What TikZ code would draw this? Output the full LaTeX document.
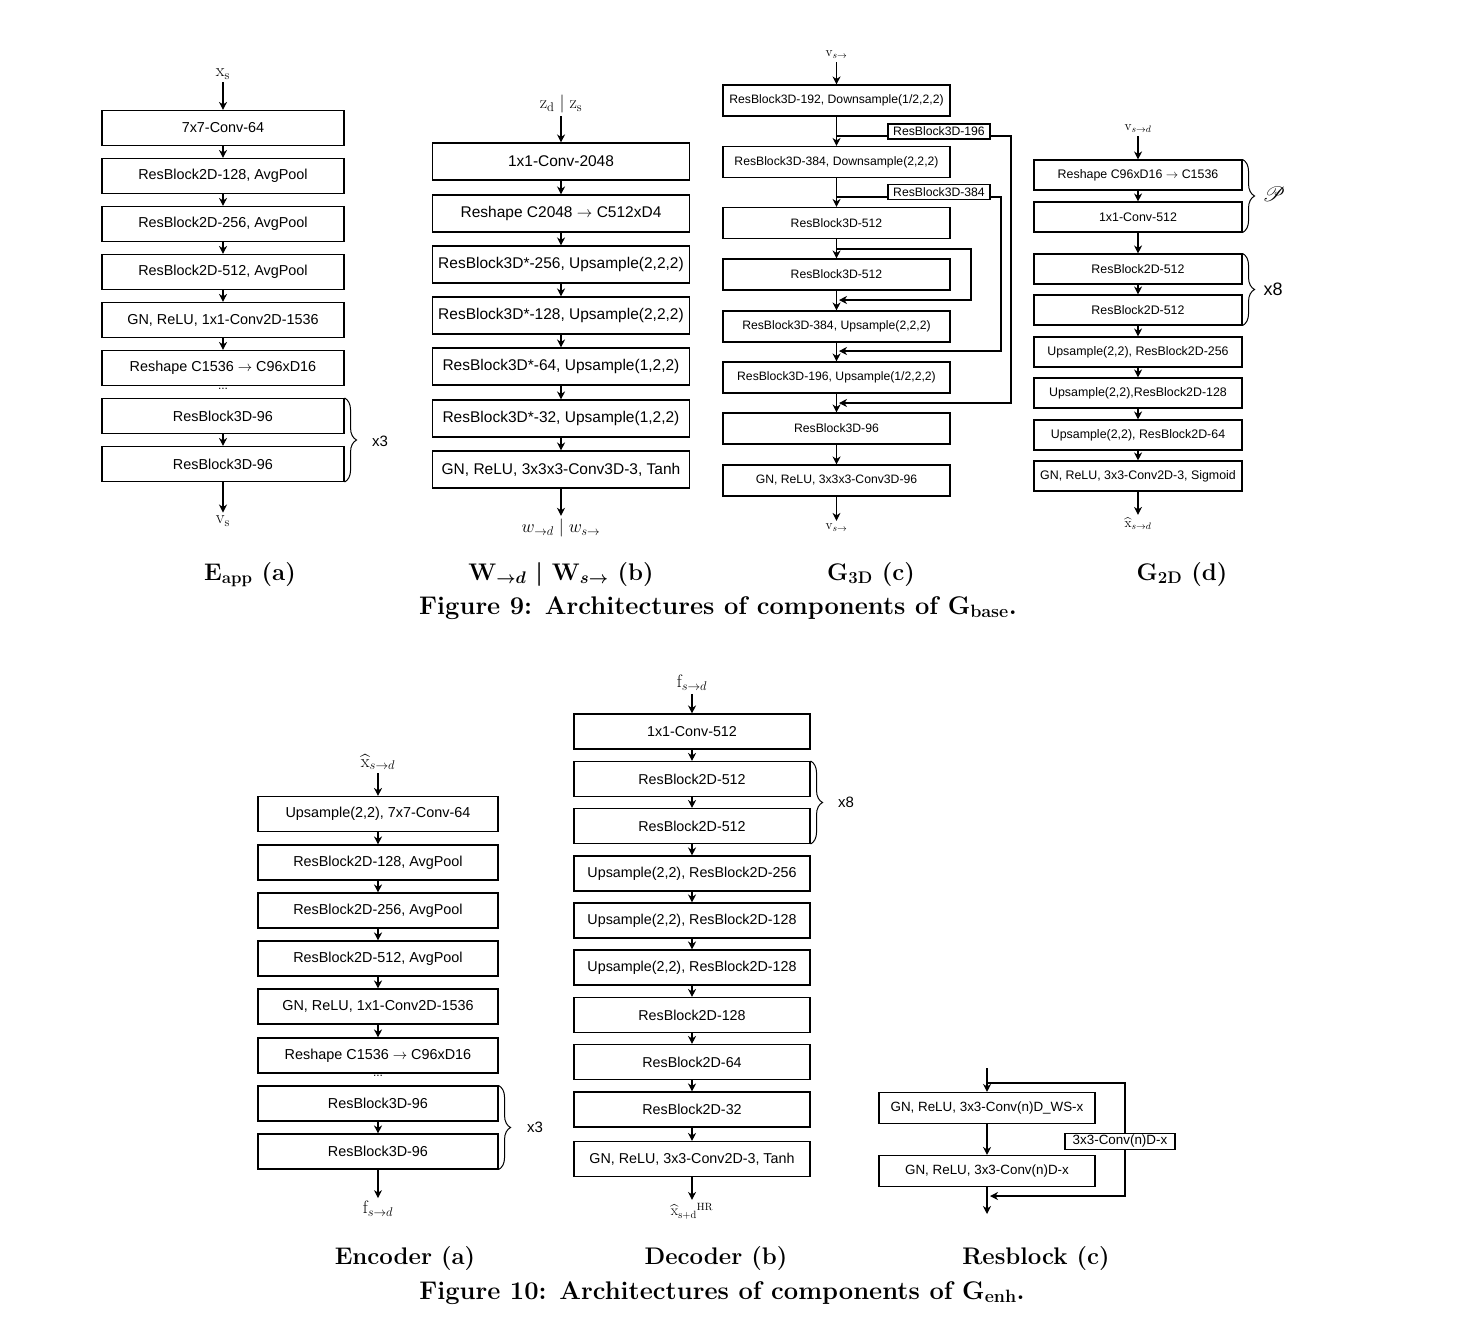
\RequirePackage{fix-cm}
\documentclass[tikz,border=0pt]{standalone}
\usepackage{amsmath,amssymb}
\usepackage{mathrsfs}
\usepackage{fontspec}
\newfontfamily\boxfont{Liberation Sans}
\usetikzlibrary{arrows.meta,positioning,calc,decorations.pathreplacing}
\newcommand{\xh}{\widehat{\mathrm{x}}}
\newcommand{\fsz}[1]{\fontsize{#1}{#1}\selectfont}

\begin{document}
\begin{tikzpicture}[x=1pt,y=-1pt,
  blk/.style={draw,line width=1.1pt,inner sep=0pt,align=center},
  arr/.style={-{Stealth[length=8pt,width=8pt,inset=2.5pt]},line width=1.1pt},
  brc/.style={decorate,decoration={brace,amplitude=12pt},line width=1pt},
  sig/.style={inner sep=3pt,font=\fsz{18}},
  sigs/.style={inner sep=3pt,font=\fsz{13.5}},
  rep/.style={inner sep=0pt,font=\boxfont\fsz{15}},
  dots/.style={inner sep=0pt,font=\boxfont\fsz{12}},
  captxt/.style={anchor=base,inner sep=0pt,font=\bfseries\boldmath\fsz{24}},
  figtxt/.style={captxt,font=\bfseries\boldmath\fsz{25.5}},
  ba/.style={blk,minimum width=242,minimum height=35,font=\boxfont\fsz{14.4}},
  bb/.style={blk,minimum width=257,minimum height=37,font=\boxfont\fsz{15.5}},
  bc/.style={blk,minimum width=227,minimum height=31,font=\boxfont\fsz{12.2}},
  bd/.style={blk,minimum width=208,minimum height=30,font=\boxfont\fsz{12.4}},
  be/.style={blk,minimum width=240,minimum height=35,font=\boxfont\fsz{14.4}},
  bf/.style={blk,minimum width=236,minimum height=35,font=\boxfont\fsz{14.3}},
  br/.style={blk,minimum width=216,minimum height=31,font=\boxfont\fsz{13.4}},
  skp/.style={blk,fill=white,minimum width=102,minimum height=15,font=\boxfont\fsz{12.2}},
]
\useasboundingbox (0,0) rectangle (1470,1334);
\fill[white] (0,0) rectangle (1470,1334);

% ============ FIG 9 (a): E_app ============
\node[sig] (ain) at (223,74) {$\mathrm{x}_{\mathrm{s}}$};
\node[ba] (a1) at (223,128) {7x7-Conv-64};
\node[ba] (a2) at (223,176) {ResBlock2D-128, AvgPool};
\node[ba] (a3) at (223,224) {ResBlock2D-256, AvgPool};
\node[ba] (a4) at (223,272) {ResBlock2D-512, AvgPool};
\node[ba] (a5) at (223,320) {GN, ReLU, 1x1-Conv2D-1536};
\node[ba] (a6) at (223,368) {Reshape C1536 $\rightarrow$ C96xD16};
\node[dots] (adots) at (223,389) {...};
\node[ba] (a7) at (223,416) {ResBlock3D-96};
\node[ba] (a8) at (223,464) {ResBlock3D-96};
\node[sig] (aout) at (223,521) {$\mathrm{v}_{\mathrm{s}}$};
\draw[arr] (ain) -- (a1);
\foreach \i/\j in {1/2,2/3,3/4,4/5,5/6,7/8} \draw[arr] (a\i) -- (a\j);
\draw[arr] (a8) -- (aout);
\draw[brc] (a7.north east) -- (a8.south east);
\node[rep] (arep) at (380,441) {x3};

% ============ FIG 9 (b): W ============
\node[sig] (bin) at (561,104) {$\mathrm{z}_{\mathrm{d}}\mid\mathrm{z}_{\mathrm{s}}$};
\node[bb] (b1) at (561,161.5) {1x1-Conv-2048};
\node[bb] (b2) at (561,213.5) {Reshape C2048 $\rightarrow$ C512xD4};
\node[bb] (b3) at (561,264.5) {ResBlock3D*-256, Upsample(2,2,2)};
\node[bb] (b4) at (561,315.5) {ResBlock3D*-128, Upsample(2,2,2)};
\node[bb] (b5) at (561,366.5) {ResBlock3D*-64, Upsample(1,2,2)};
\node[bb] (b6) at (561,418.5) {ResBlock3D*-32, Upsample(1,2,2)};
\node[bb] (b7) at (561,469.5) {GN, ReLU, 3x3x3-Conv3D-3, Tanh};
\node[sig] (bout) at (561,528) {$w_{\rightarrow d}\mid w_{s\rightarrow}$};
\draw[arr] (bin) -- (b1);
\foreach \i/\j in {1/2,2/3,3/4,4/5,5/6,6/7} \draw[arr] (b\i) -- (b\j);
\draw[arr] (b7) -- (bout);

% ============ FIG 9 (c): G_3D ============
\node[sigs] (cin) at (836.5,55) {$\mathrm{v}_{s\rightarrow}$};
\node[bc] (c1) at (836.5,100.5) {ResBlock3D-192, Downsample(1/2,2,2)};
\node[bc] (c2) at (836.5,162) {ResBlock3D-384, Downsample(2,2,2)};
\node[bc] (c3) at (836.5,223) {ResBlock3D-512};
\node[bc] (c4) at (836.5,274.5) {ResBlock3D-512};
\node[bc] (c5) at (836.5,326.5) {ResBlock3D-384, Upsample(2,2,2)};
\node[bc] (c6) at (836.5,377.5) {ResBlock3D-196, Upsample(1/2,2,2)};
\node[bc] (c7) at (836.5,428.5) {ResBlock3D-96};
\node[bc] (c8) at (836.5,480.5) {GN, ReLU, 3x3x3-Conv3D-96};
\node[sigs] (cout) at (836.5,528) {$\mathrm{v}_{s\rightarrow}$};
\draw[arr] (cin) -- (c1);
\foreach \i/\j in {1/2,2/3,3/4,4/5,5/6,6/7,7/8} \draw[arr] (c\i) -- (c\j);
\draw[arr] (c8) -- (cout);
% skip connections
\coordinate (k1s) at (836.5,136); \coordinate (k1e) at (839,403);
\coordinate (k2s) at (836.5,197); \coordinate (k2e) at (839,351);
\coordinate (k3s) at (836.5,249); \coordinate (k3e) at (839,300);
\draw[arr] (k1s) -- (1011,136) |- (k1e);
\draw[arr] (k2s) -- (1001,197) |- (k2e);
\draw[arr] (k3s) -- (971,249) |- (k3e);
\node[skp] (k1) at (939,131.5) {ResBlock3D-196};
\node[skp] (k2) at (939,192) {ResBlock3D-384};

% ============ FIG 9 (d): G_2D ============
\node[sigs] (din) at (1138,129) {$\mathrm{v}_{s\rightarrow d}$};
\node[bd] (d1) at (1138,175) {Reshape C96xD16 $\rightarrow$ C1536};
\node[bd] (d2) at (1138,217) {1x1-Conv-512};
\node[bd] (d3) at (1138,269) {ResBlock2D-512};
\node[bd] (d4) at (1138,310) {ResBlock2D-512};
\node[bd] (d5) at (1138,352) {Upsample(2,2), ResBlock2D-256};
\node[bd] (d6) at (1138,393) {Upsample(2,2),ResBlock2D-128};
\node[bd] (d7) at (1138,435) {Upsample(2,2), ResBlock2D-64};
\node[bd] (d8) at (1138,476) {GN, ReLU, 3x3-Conv2D-3, Sigmoid};
\node[sigs] (dout) at (1138,524) {$\xh_{s\rightarrow d}$};
\draw[arr] (din) -- (d1);
\foreach \i/\j in {1/2,2/3,3/4,4/5,5/6,6/7,7/8} \draw[arr] (d\i) -- (d\j);
\draw[arr] (d8) -- (dout);
\draw[brc] (d1.north east) -- (d2.south east);
\node[sig,font=\fsz{22}] (dproj) at (1274,194) {$\mathscr{P}$};
\draw[brc] (d3.north east) -- (d4.south east);
\node[rep,font=\boxfont\fsz{18}] (drep) at (1273,289) {x8};

% captions, fig 9
\node[captxt] (capa) at (250,580) {E$_{\mathbf{app}}$ (a)};
\node[captxt] (capb) at (561,580) {W$_{\rightarrow d}$ | W$_{s\rightarrow}$ (b)};
\node[captxt] (capc) at (871,580) {G$_{\mathbf{3D}}$ (c)};
\node[captxt] (capd) at (1182,580) {G$_{\mathbf{2D}}$ (d)};
\node[figtxt] (fig9) at (718,614) {Figure 9: Architectures of components of G$_{\mathbf{base}}$.};

% ============ FIG 10 (a): encoder ============
\node[sig] (ein) at (378,762) {$\xh_{s\rightarrow d}$};
\node[be] (e1) at (378,814) {Upsample(2,2), 7x7-Conv-64};
\node[be] (e2) at (378,862.5) {ResBlock2D-128, AvgPool};
\node[be] (e3) at (378,910.5) {ResBlock2D-256, AvgPool};
\node[be] (e4) at (378,958.5) {ResBlock2D-512, AvgPool};
\node[be] (e5) at (378,1006.5) {GN, ReLU, 1x1-Conv2D-1536};
\node[be] (e6) at (378,1055.5) {Reshape C1536 $\rightarrow$ C96xD16};
\node[dots] (edots) at (378,1076) {...};
\node[be] (e7) at (378,1103.5) {ResBlock3D-96};
\node[be] (e8) at (378,1151.5) {ResBlock3D-96};
\node[sig] (eout) at (378,1209) {$\mathrm{f}_{s\rightarrow d}$};
\draw[arr] (ein) -- (e1);
\foreach \i/\j in {1/2,2/3,3/4,4/5,5/6,7/8} \draw[arr] (e\i) -- (e\j);
\draw[arr] (e8) -- (eout);
\draw[brc] (e7.north east) -- (e8.south east);
\node[rep] (erep) at (535,1127) {x3};

% ============ FIG 10 (b): decoder ============
\node[sig] (fin) at (692,683) {$\mathrm{f}_{s\rightarrow d}$};
\node[bf] (f1) at (692,731.5) {1x1-Conv-512};
\node[bf] (f2) at (692,779) {ResBlock2D-512};
\node[bf] (f3) at (692,826) {ResBlock2D-512};
\node[bf] (f4) at (692,873.5) {Upsample(2,2), ResBlock2D-256};
\node[bf] (f5) at (692,920.5) {Upsample(2,2), ResBlock2D-128};
\node[bf] (f6) at (692,967.5) {Upsample(2,2), ResBlock2D-128};
\node[bf] (f7) at (692,1015) {ResBlock2D-128};
\node[bf] (f8) at (692,1062) {ResBlock2D-64};
\node[bf] (f9) at (692,1109.5) {ResBlock2D-32};
\node[bf] (f10) at (692,1159) {GN, ReLU, 3x3-Conv2D-3, Tanh};
\node[sig,font=\fsz{15}] (fout) at (692,1211) {$\xh_{\mathrm{s+d}}{}^{\mathrm{HR}}$};
\draw[arr] (fin) -- (f1);
\foreach \i/\j in {1/2,2/3,3/4,4/5,5/6,6/7,7/8,8/9,9/10} \draw[arr] (f\i) -- (f\j);
\draw[arr] (f10) -- (fout);
\draw[brc] (f2.north east) -- (f3.south east);
\node[rep] (frep) at (846,802) {x8};

% ============ FIG 10 (c): resblock ============
\coordinate (rin) at (987,1068);
\coordinate (rsp) at (987,1083);
\coordinate (rj) at (990,1196);
\coordinate (rout) at (987,1214);
\node[br] (r1) at (987,1108) {GN, ReLU, 3x3-Conv(n)D\_WS-x};
\node[br] (r2) at (987,1171) {GN, ReLU, 3x3-Conv(n)D-x};
\draw[arr] (rin) -- (r1);
\draw[arr] (r1) -- (r2);
\draw[arr] (r2) -- (rout);
\draw[arr] (rsp) -- (1125,1083) |- (rj);
\node[skp,minimum width=110,minimum height=16,font=\boxfont\fsz{13.4}] (rconv) at (1120,1141.5) {3x3-Conv(n)D-x};

% captions, fig 10
\node[captxt] (cape) at (405,1264) {Encoder (a)};
\node[captxt] (capf) at (716,1264) {Decoder (b)};
\node[captxt] (capr) at (1036,1264) {Resblock (c)};
\node[figtxt] (fig10) at (722,1299) {Figure 10: Architectures of components of G$_{\mathbf{enh}}$.};
\end{tikzpicture}
\end{document}
